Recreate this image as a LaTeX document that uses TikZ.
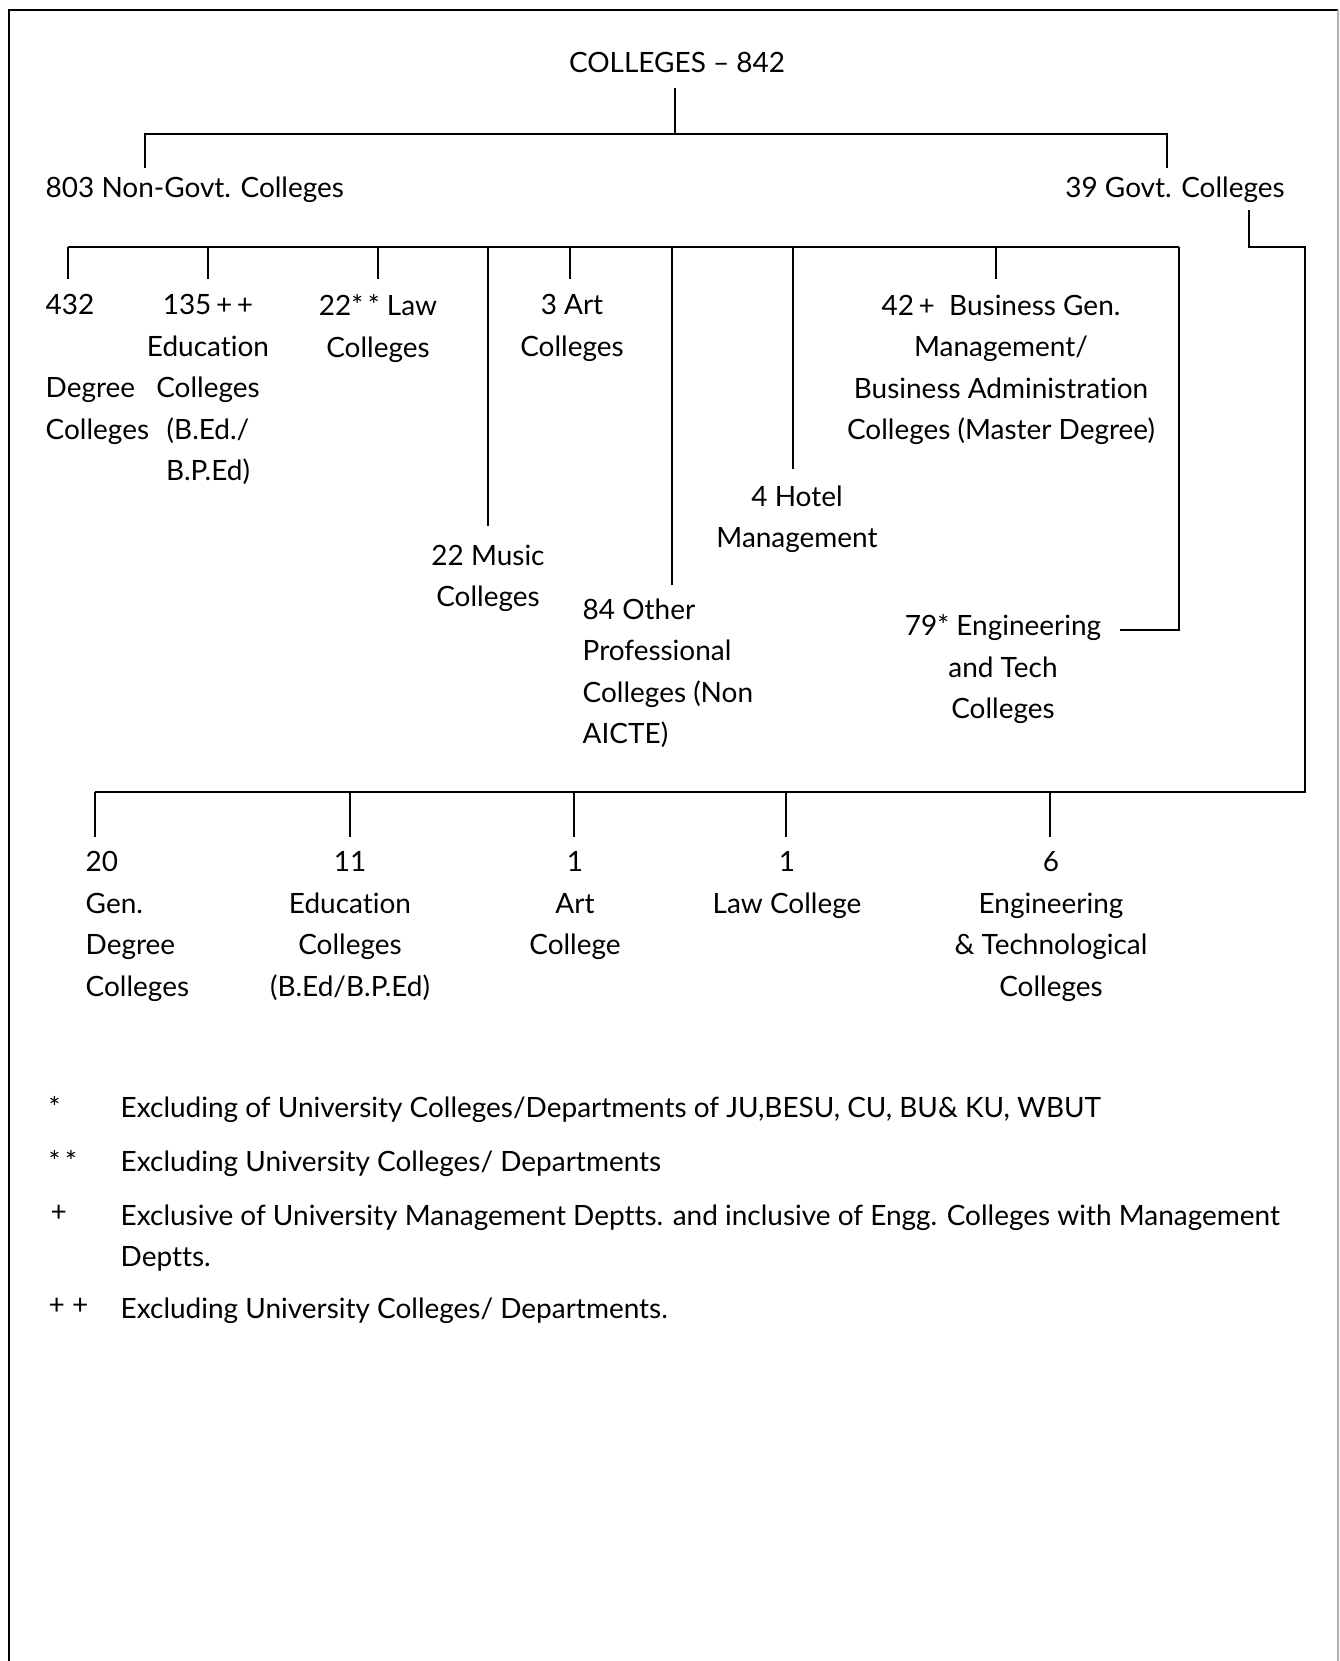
\documentclass[tikz,border=0pt]{standalone}
\usepackage{fontspec}
\setmainfont{Lato}[Ligatures={TeX,NoCommon}]
\usetikzlibrary{positioning}

\tikzset{
  txt/.style={font=\fontsize{7.95}{11.8}\selectfont, inner sep=0pt, align=center, anchor=north},
  txtl/.style={txt, align=left, anchor=north west},
  tree/.style={line width=0.75pt},
}

\begin{document}
\begin{tikzpicture}[x=0.01cm, y=-0.01cm]
  \useasboundingbox (0,0) rectangle (1340,1661);
  % frame
  \draw[line width=0.8pt] (9,1661) -- (9,10) -- (1338,10);
  \draw[line width=0.5pt, gray!60] (1338,10) -- (1338,1661);

  % top
  \node[txt] (root) at (677,52) {COLLEGES – 842};
  \node[txtl] (ngov) at (45,176) {803 Non-Govt. Colleges};
  \node[txt] (gov) at (1175,176) {39 Govt. Colleges};

  \coordinate (rootdn) at (675,88);
  \coordinate (bar1) at (675,134);
  \coordinate (ngovup) at (145,168);
  \coordinate (govup) at (1167,168);
  \draw[tree] (rootdn) -- (bar1);
  \draw[tree] (ngovup) |- (bar1) -| (govup);

  % non-govt colleges
  \node[txtl] (n432) at (45,294) {432\\~\\Degree\\Colleges};
  \node[txt] (n135) at (208,294) {135\,+\,+\\Education\\Colleges\\(B.Ed./\\B.P.Ed)};
  \node[txt] (nlaw) at (378,294) {22*\,* Law\\Colleges};
  \node[txt] (nart) at (572,294) {3 Art\\Colleges};
  \node[txt] (nmusic) at (488,544) {22 Music\\Colleges};
  \node[txtl] (nother) at (582,598) {84 Other\\Professional\\Colleges (Non\\AICTE)};
  \node[txt] (nhotel) at (797,485) {4 Hotel\\Management};
  \node[txt] (nbus) at (1001,294) {42\,+\ \ Business Gen.\\Management/\\Business Administration\\Colleges (Master Degree)};
  \node[txt] (neng) at (1003,614) {79* Engineering\\and Tech\\Colleges};

  \coordinate (bar2l) at (68,247);
  \coordinate (bar2r) at (1179,247);
  \coordinate (d432) at (68,279);
  \coordinate (d135) at (208,279);
  \coordinate (dlaw) at (378,279);
  \coordinate (dmusic) at (488,526);
  \coordinate (dart) at (570,279);
  \coordinate (dother) at (672,585);
  \coordinate (dhotel) at (793,469);
  \coordinate (dbus) at (996,279);
  \coordinate (deng) at (1120,630);
  \draw[tree] (bar2l) -- (bar2r);
  \draw[tree] (d432) -- (d432 |- bar2l);
  \draw[tree] (d135) -- (d135 |- bar2l);
  \draw[tree] (dlaw) -- (dlaw |- bar2l);
  \draw[tree] (dmusic) -- (dmusic |- bar2l);
  \draw[tree] (dart) -- (dart |- bar2l);
  \draw[tree] (dother) -- (dother |- bar2l);
  \draw[tree] (dhotel) -- (dhotel |- bar2l);
  \draw[tree] (dbus) -- (dbus |- bar2l);
  \draw[tree] (bar2r) |- (deng);

  % govt colleges
  \coordinate (govdn) at (1249,210);
  \coordinate (govturn) at (1305,247);
  \coordinate (bar3r) at (1305,792);
  \coordinate (bar3l) at (95,792);
  \draw[tree] (govdn) |- (govturn) -- (bar3r) -- (bar3l);

  \node[txtl] (g20) at (85,851) {20\\Gen.\\Degree\\Colleges};
  \node[txt] (g11) at (350,851) {11\\Education\\Colleges\\(B.Ed/B.P.Ed)};
  \node[txt] (gart) at (575,851) {1\\Art\\College};
  \node[txt] (glaw) at (787,851) {1\\Law College};
  \node[txt] (geng) at (1051,851) {6\\Engineering\\\& Technological\\Colleges};

  \coordinate (e20) at (95,837);
  \coordinate (e11) at (350,837);
  \coordinate (eart) at (574,837);
  \coordinate (elaw) at (786,837);
  \coordinate (eeng) at (1050,837);
  \draw[tree] (e20) -- (e20 |- bar3l);
  \draw[tree] (e11) -- (e11 |- bar3l);
  \draw[tree] (eart) -- (eart |- bar3l);
  \draw[tree] (elaw) -- (elaw |- bar3l);
  \draw[tree] (eeng) -- (eeng |- bar3l);

  % footnotes
  \node[txtl] (s1) at (48,1096) {*};
  \node[txtl] (f1) at (120,1096) {Excluding of University Colleges/Departments of JU,BESU, CU, BU\& KU, WBUT};
  \node[txtl] (s2) at (48,1150) {*\,*};
  \node[txtl] (f2) at (120,1150) {Excluding University Colleges/ Departments};
  \node[txtl] (s3) at (50,1204) {+};
  \node[txtl] (f3) at (120,1204) {Exclusive of University Management Deptts. and inclusive of Engg. Colleges with Management\\Deptts.};
  \node[txtl] (s4) at (48,1297) {+\ +};
  \node[txtl] (f4) at (120,1297) {Excluding University Colleges/ Departments.};
\end{tikzpicture}
\end{document}
